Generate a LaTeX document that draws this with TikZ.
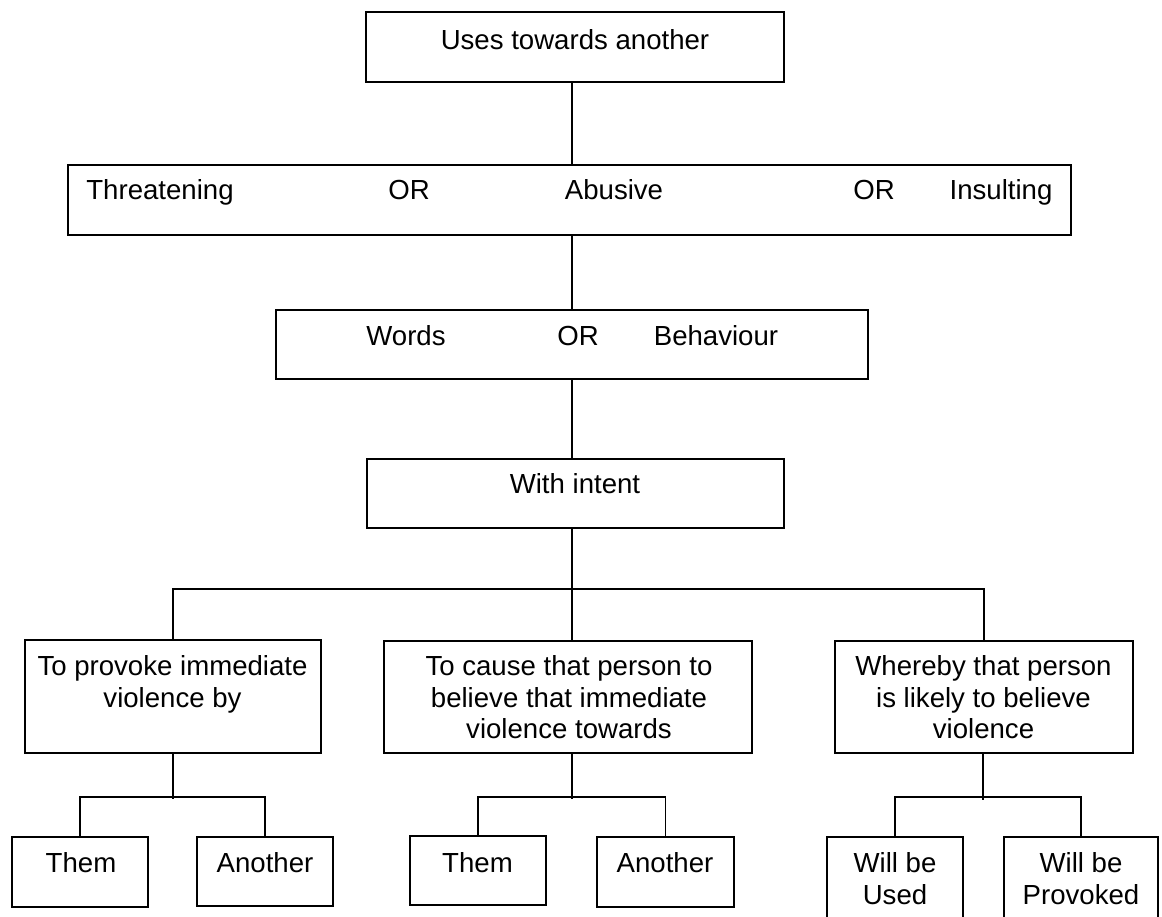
\documentclass[tikz,border=0pt]{standalone}
\usepackage{fontspec}
\setmainfont{Liberation Sans}
\begin{document}
\begin{tikzpicture}[x=1pt,y=-1pt,
  box/.style={draw=black, line width=2pt, inner sep=0pt, rectangle},
  txt/.style={font=\fontsize{27.6}{31.7}\selectfont, inner sep=0pt, align=center},
  conn/.style={draw=black, line width=1.5pt}]
\clip (0,0) rectangle (1162,917);
\fill[white] (0,0) rectangle (1162,917);
% boxes
\node[box, minimum width=418, minimum height=70] (top) at (575,47) {};
\node[box, minimum width=1003, minimum height=70] (row2) at (569.5,200) {};
\node[box, minimum width=592, minimum height=69] (row3) at (572,344.5) {};
\node[box, minimum width=417, minimum height=69] (row4) at (575.5,493.5) {};
\node[box, minimum width=296, minimum height=113] (a5) at (173,696.5) {};
\node[box, minimum width=368, minimum height=112] (b5) at (568,697) {};
\node[box, minimum width=298, minimum height=112] (c5) at (984,697) {};
\node[box, minimum width=136, minimum height=70] (t1) at (80,872) {};
\node[box, minimum width=136, minimum height=69] (n1) at (265,871.5) {};
\node[box, minimum width=136, minimum height=69] (t2) at (478,870.5) {};
\node[box, minimum width=137, minimum height=70] (n2) at (665.5,872) {};
\node[box, minimum width=136, minimum height=93] (u3) at (895,883.5) {};
\node[box, minimum width=154, minimum height=93] (p3) at (1081,883.5) {};
% texts
\node[txt, anchor=base] (ttop) at (575,50) {Uses towards another};
\node[txt, anchor=base] (tthr) at (160,200) {Threatening};
\node[txt, anchor=base] (tor1) at (409,200) {OR};
\node[txt, anchor=base] (tabu) at (614,200) {Abusive};
\node[txt, anchor=base] (tor2) at (874,200) {OR};
\node[txt, anchor=base] (tins) at (1001,200) {Insulting};
\node[txt, anchor=base] (twor) at (406,345) {Words};
\node[txt, anchor=base] (tor3) at (578,345) {OR};
\node[txt, anchor=base] (tbeh) at (716,345) {Behaviour};
\node[txt, anchor=base] (tint) at (575,493) {With intent};
\node[txt, anchor=north] (ta5) at (172.5,655.2) {To provoke immediate\\violence by};
\node[txt, anchor=north] (tb5) at (569,655.2) {To cause that person to\\believe that immediate\\violence towards};
\node[txt, anchor=north] (tc5) at (983.5,655.2) {Whereby that person\\is likely to believe\\violence};
\node[txt, anchor=base] (tt1) at (81,872) {Them};
\node[txt, anchor=base] (tn1) at (265,872) {Another};
\node[txt, anchor=base] (tt2) at (477.5,872) {Them};
\node[txt, anchor=base] (tn2) at (665,872) {Another};
\node[txt, anchor=north] (tu3) at (895,852.2) {Will be\\Used};
\node[txt, anchor=north] (tp3) at (1081,852.2) {Will be\\Provoked};
% connectors
\coordinate (spine) at (572,0);
\coordinate (hub) at (572,589);
\coordinate (ja) at (173,797);
\coordinate (jb) at (572,797);
\coordinate (jc) at (983,797);
\draw[conn] (top.south -| spine) -- (row2.north -| spine);
\draw[conn] (row2.south -| spine) -- (row3.north -| spine);
\draw[conn] (row3.south -| spine) -- (row4.north -| spine);
\draw[conn] (row4.south -| spine) -- (b5.north -| spine);
\draw[conn] (a5.north) -- (a5.north |- hub) -- (c5.north |- hub) -- (c5.north);
\draw[conn] (a5.south) -- ([yshift=-2pt]ja);
\draw[conn] (t1.north) |- (ja) -| (n1.north);
\draw[conn] (b5.south -| spine) -- ([yshift=-2pt]jb);
\draw[conn] (t2.north) |- (jb) -| (n2.north);
\draw[conn] (c5.south -| jc) -- ([yshift=-3pt]jc);
\draw[conn] (u3.north) |- (jc) -| (p3.north);
\end{tikzpicture}
\end{document}
